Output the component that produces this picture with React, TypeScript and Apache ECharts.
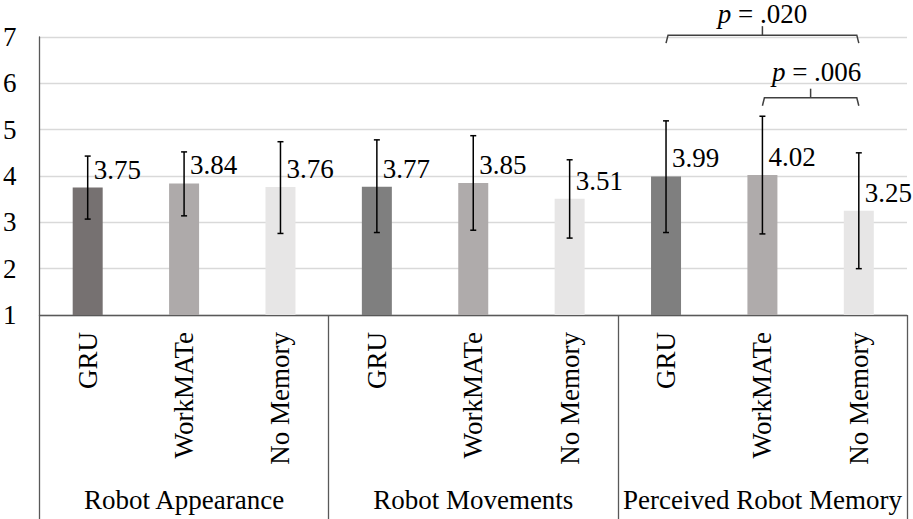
import React, { useEffect, useRef } from "react";
import * as echarts from "echarts";

const groups = ["Robot Appearance", "Robot Movements", "Perceived Robot Memory"];
const conditions = ["GRU", "WorkMATe", "No Memory"];
const means = [3.75, 3.84, 3.76, 3.77, 3.85, 3.51, 3.99, 4.02, 3.25];
const errUpper = [4.43, 4.52, 4.74, 4.78, 4.87, 4.35, 5.19, 5.29, 4.5];
const errLower = [3.07, 3.14, 2.76, 2.78, 2.83, 2.66, 2.78, 2.75, 2.0];
const barColors = [
  "#767171", "#aeaaaa", "#e7e6e6",
  "#7f7f7f", "#afabab", "#e7e6e6",
  "#7f7f7f", "#afabab", "#e7e6e6",
];
const yTicks = [1, 2, 3, 4, 5, 6, 7];
// significance brackets: [startIndex, endIndex, yValue, pText]
const brackets: [number, number, number, string][] = [
  [6, 8, 7.04, ".020"],
  [7, 8, 5.69, ".006"],
];
// layout of the bracket texts (pixel offsets from the bracket's middle tick)
const bracketTextDx = [0, 6];
const bracketTextDy = [21, 26];

const FONT = "Times New Roman, Liberation Serif, DejaVu Serif, serif";
const FS = 27;

export default function App() {
  const ref = useRef<HTMLDivElement>(null);
  useEffect(() => {
    document.body.style.margin = "0";
    const chart = echarts.init(ref.current!, null, { renderer: "svg" });
    const categories: string[] = [];
    groups.forEach((g) => conditions.forEach((c) => categories.push(g + "|" + c)));

    const option: any = {
      animation: false,
      textStyle: { fontFamily: FONT },
      grid: { left: 39, right: 6, top: 37, bottom: 204, containLabel: false },
      xAxis: [
        {
          type: "category",
          data: categories,
          axisLine: { show: true, lineStyle: { color: "#595959", width: 1.3 } },
          axisTick: { show: false },
          axisLabel: {
            interval: 0,
            rotate: 90,
            margin: 17,
            fontSize: FS,
            fontFamily: FONT,
            color: "#000",
            formatter: (v: string) => v.split("|")[1],
          },
        },
        {
          type: "category",
          data: groups,
          position: "bottom",
          axisLine: { show: false },
          axisTick: {
            show: true,
            interval: 0,
            length: 205,
            lineStyle: { color: "#595959", width: 1.3 },
          },
          axisLabel: {
            interval: 0,
            margin: 185,
            fontSize: FS,
            fontFamily: FONT,
            color: "#000",
            verticalAlign: "middle",
          },
        },
      ],
      yAxis: {
        type: "value",
        min: yTicks[0],
        max: yTicks[yTicks.length - 1],
        interval: 1,
        axisLine: { show: true, lineStyle: { color: "#595959", width: 1.3 } },
        axisTick: { show: false },
        splitLine: { lineStyle: { color: "#d9d9d9", width: 1.3 } },
        axisLabel: {
          margin: 23,
          fontSize: FS,
          fontFamily: FONT,
          color: "#000",
        },
      },
      series: [
        {
          type: "bar",
          xAxisIndex: 0,
          barWidth: 30,
          data: means.map((v, i) => ({ value: v, itemStyle: { color: barColors[i] } })),
          label: {
            show: true,
            position: [21, -18],
            align: "left",
            verticalAlign: "middle",
            fontSize: FS,
            fontFamily: FONT,
            color: "#000",
            formatter: (p: any) => Number(p.value).toFixed(2),
          },
          z: 2,
        },
        {
          type: "custom",
          xAxisIndex: 0,
          z: 5,
          data: means.map((_, i) => [i, errLower[i], errUpper[i]]),
          renderItem: (params: any, api: any) => {
            const x = api.value(0);
            const lo = api.coord([x, api.value(1)]);
            const hi = api.coord([x, api.value(2)]);
            const cap = 3;
            const st = { stroke: "#000", lineWidth: 1.5 };
            return {
              type: "group",
              children: [
                { type: "line", shape: { x1: hi[0], y1: hi[1], x2: lo[0], y2: lo[1] }, style: st },
                { type: "line", shape: { x1: hi[0] - cap, y1: hi[1], x2: hi[0] + cap, y2: hi[1] }, style: st },
                { type: "line", shape: { x1: lo[0] - cap, y1: lo[1], x2: lo[0] + cap, y2: lo[1] }, style: st },
              ],
            };
          },
        },
        {
          type: "custom",
          xAxisIndex: 0,
          z: 5,
          clip: false,
          data: brackets.map((b) => [b[0], b[1], b[2], b[3]]),
          renderItem: (params: any, api: any) => {
            const s = api.value(0);
            const e = api.value(1);
            const yv = api.value(2);
            const p1 = api.coord([s, yv]);
            const p2 = api.coord([e, yv]);
            const y = p1[1];
            const mx = (p1[0] + p2[0]) / 2;
            const st = { stroke: "#404040", lineWidth: 1.5, fill: "none" };
            const idx = params.dataIndex;
            const txt = String(brackets[idx][3]);
            return {
              type: "group",
              children: [
                {
                  type: "polyline",
                  shape: { points: [[p1[0], y + 8], [p1[0] + 2, y], [p2[0] - 2, y], [p2[0], y + 8]] },
                  style: st,
                },
                { type: "line", shape: { x1: mx, y1: y, x2: mx, y2: y - 9 }, style: st },
                {
                  type: "text",
                  x: mx + bracketTextDx[idx],
                  y: y - bracketTextDy[idx],
                  style: {
                    text: "{i|p} = " + txt,
                    fontSize: FS,
                    fontFamily: FONT,
                    fill: "#000",
                    align: "center",
                    verticalAlign: "middle",
                    rich: {
                      i: { fontStyle: "italic", fontSize: FS, fontFamily: FONT, fill: "#000" },
                    },
                  },
                },
              ],
            };
          },
        },
      ],
    };
    chart.setOption(option);
    return () => chart.dispose();
  }, []);
  return (
    <div
      ref={ref}
      style={{ width: 913, height: 519, position: "absolute", left: 0, top: 0 }}
    />
  );
}
